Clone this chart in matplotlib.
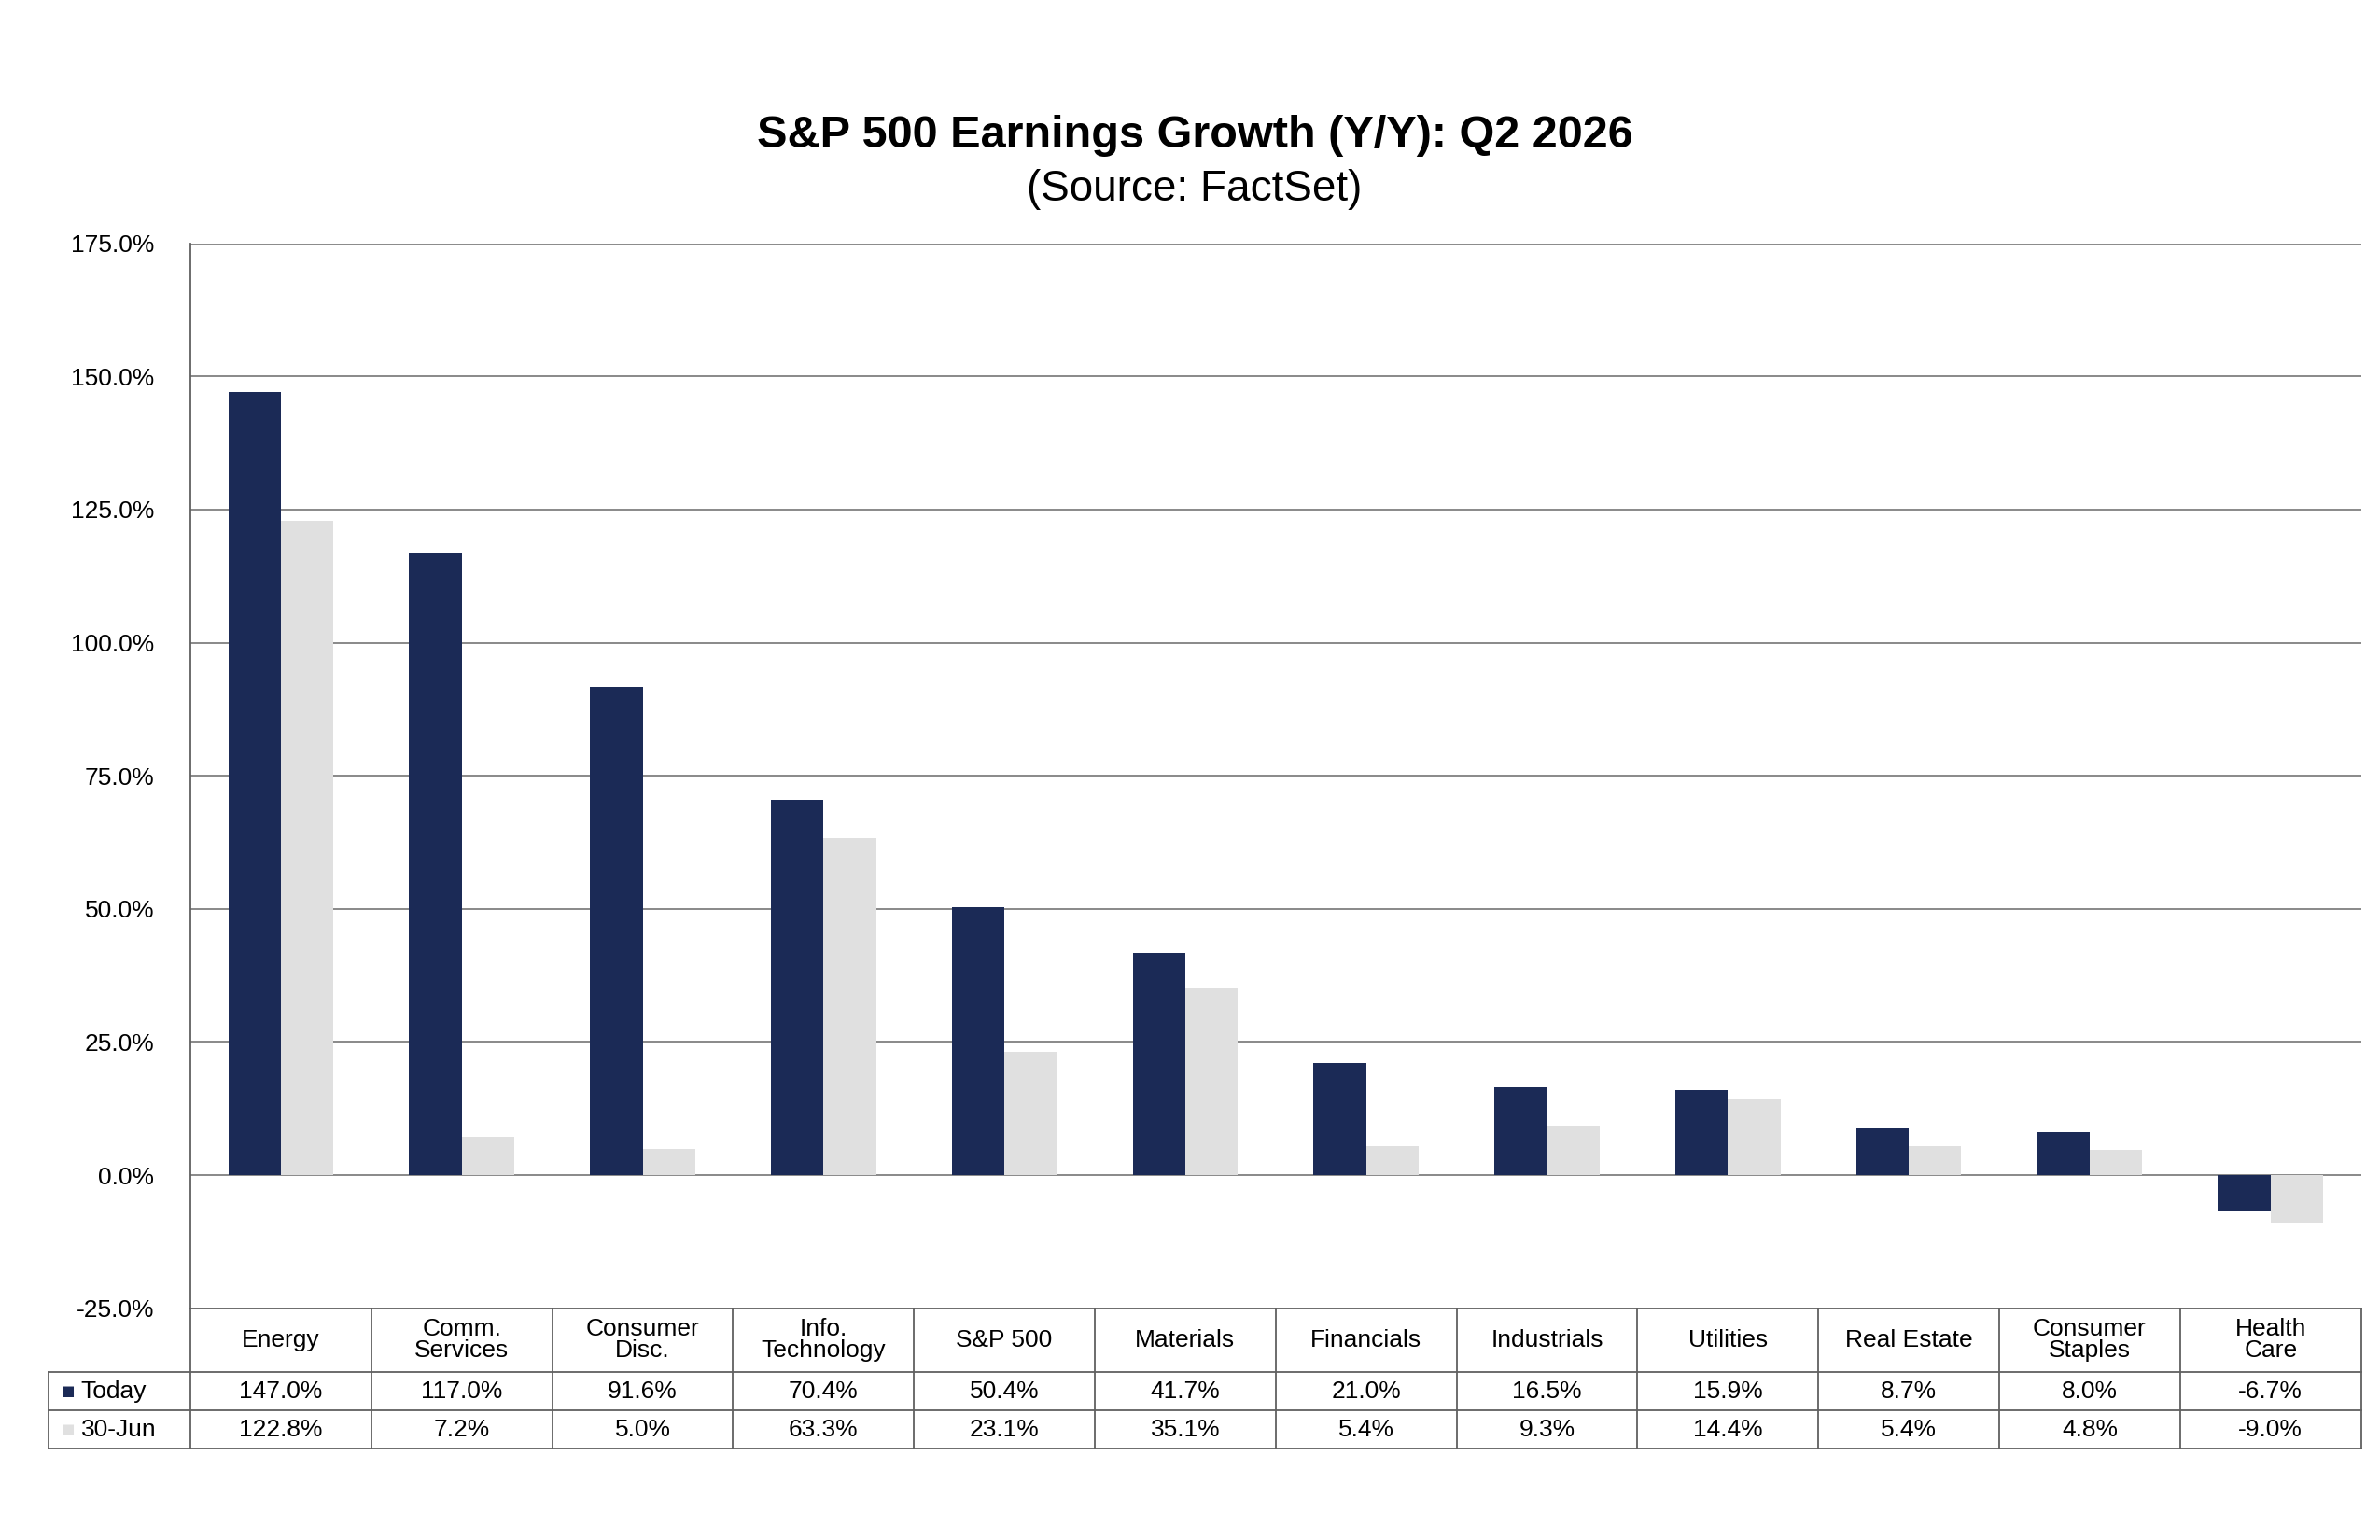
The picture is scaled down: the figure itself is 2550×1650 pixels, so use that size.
import numpy as np
import matplotlib.pyplot as plt

categories = ["Energy", "Comm.\nServices", "Consumer\nDisc.", "Info.\nTechnology", "S&P 500",
              "Materials", "Financials", "Industrials", "Utilities", "Real Estate",
              "Consumer\nStaples", "Health\nCare"]
today = [147.0, 117.0, 91.6, 70.4, 50.4, 41.7, 21.0, 16.5, 15.9, 8.7, 8.0, -6.7]
jun30 = [122.8, 7.2, 5.0, 63.3, 23.1, 35.1, 5.4, 9.3, 14.4, 5.4, 4.8, -9.0]
navy = "#1b2a56"
grey = "#e0e0e0"

plt.rcParams['font.family'] = ['Liberation Sans', 'DejaVu Sans']
fig = plt.figure(figsize=(25.5, 16.5), dpi=100)
ax = fig.add_axes([0.080, 0.1505, 0.912, 0.6915])

n = len(categories)
x = np.arange(n)
w = 0.29
ax.bar(x - w/2, today, w, color=navy, zorder=3)
ax.bar(x + w/2, jun30, w, color=grey, zorder=3)

ax.set_xlim(-0.5, n - 0.5)
ax.set_ylim(-25, 175)
ax.set_yticks(np.arange(-25, 176, 25))
ax.set_yticklabels([f"{v:.1f}%" for v in np.arange(-25, 176, 25)], fontsize=19)
ax.tick_params(axis='y', length=0, pad=28)
ax.tick_params(axis='x', bottom=False, labelbottom=False)
for v in np.arange(0, 176, 25):
    ax.axhline(v, color="#808080", lw=1.3, zorder=1)
for s in ['top', 'right', 'bottom']:
    ax.spines[s].set_visible(False)
ax.spines['left'].set_color("#606060")
ax.spines['left'].set_linewidth(1.3)

# table below the plot, in axes y coordinates
tr = ax.get_xaxis_transform()
y0, y1, y2, y3 = 0.0, -0.06, -0.096, -0.132
xl = -0.5 - 93 / 118.5  # left edge of label column
lc = "#606060"
for yy in (y0, y1, y2, y3):
    x_start = -0.5 if yy == y0 else xl
    ax.plot([x_start, n - 0.5], [yy, yy], transform=tr, color=lc, lw=1.3, clip_on=False)
for i in range(n + 1):
    ax.plot([i - 0.5, i - 0.5], [y0, y3], transform=tr, color=lc, lw=1.3, clip_on=False)
ax.plot([xl, xl], [y1, y3], transform=tr, color=lc, lw=1.3, clip_on=False)

for i in range(n):
    ax.text(i, (y0 + y1) / 2, categories[i], transform=tr, ha='center', va='center',
            fontsize=19, linespacing=0.95, clip_on=False)
    ax.text(i, (y1 + y2) / 2, f"{today[i]:.1f}%", transform=tr, ha='center', va='center',
            fontsize=19, clip_on=False)
    ax.text(i, (y2 + y3) / 2, f"{jun30[i]:.1f}%", transform=tr, ha='center', va='center',
            fontsize=19, clip_on=False)

ax.text(xl + 0.07, (y1 + y2) / 2, "\u25A0", transform=tr, ha='left', va='center',
        fontsize=11, color=navy, clip_on=False, family='DejaVu Sans')
ax.text(xl + 0.18, (y1 + y2) / 2, "Today", transform=tr, ha='left', va='center',
        fontsize=19, clip_on=False)
ax.text(xl + 0.07, (y2 + y3) / 2, "\u25A0", transform=tr, ha='left', va='center',
        fontsize=11, color=grey, clip_on=False, family='DejaVu Sans')
ax.text(xl + 0.18, (y2 + y3) / 2, "30-Jun", transform=tr, ha='left', va='center',
        fontsize=19, clip_on=False)

fig.text(0.502, 0.912, "S&P 500 Earnings Growth (Y/Y): Q2 2026", ha='center', va='center',
         fontsize=35, fontweight='bold')
fig.text(0.502, 0.877, "(Source: FactSet)", ha='center', va='center', fontsize=33)

fig.savefig("out.png", dpi=100)
